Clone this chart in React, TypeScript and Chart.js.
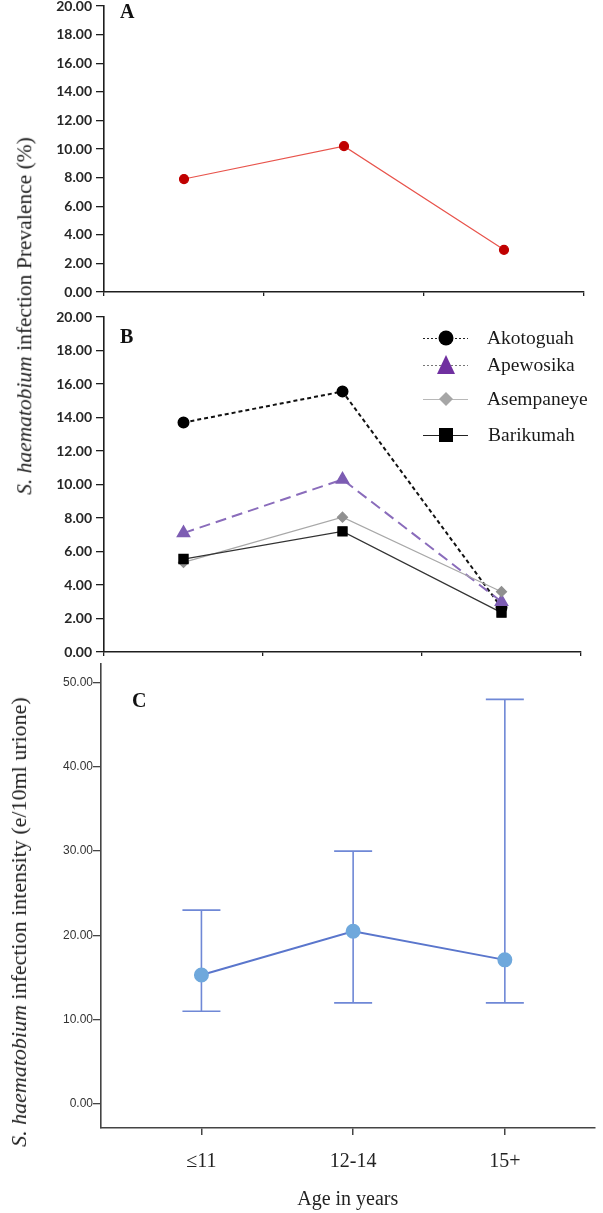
import React, { useEffect, useRef } from 'react';
import { Chart, registerables } from 'chart.js';

Chart.register(...registerables);

// ---------- data ----------
const ageGroups = ['≤11', '12-14', '15+'];
const prevalenceTicks = [0, 2, 4, 6, 8, 10, 12, 14, 16, 18, 20];
const overallPrevalence = [7.9, 10.2, 2.95];
const villages = ['Akotoguah', 'Apewosika', 'Asempaneye', 'Barikumah'];
const akotoguah = [13.7, 15.55, 2.65];
const apewosika = [7.1, 10.3, 3.0];
const asempaneye = [5.35, 8.05, 3.6];
const barikumah = [5.55, 7.2, 2.35];
const intensityTicks = [0, 10, 20, 30, 40, 50];
const intensityMean = [15.3, 20.5, 17.1];
const intensityLow = [11.0, 12.0, 12.0];
const intensityHigh = [23.0, 30.0, 48.0];

const SERIF = "'Liberation Serif', 'Times New Roman', serif";
const AXIS_DARK = '#1e1e1e';

const fixY = (w: number) => (s: any) => {
  s.width = w;
  s.paddingTop = 0;
  s.paddingBottom = 0;
};
const fixX = (h: number) => (s: any) => {
  s.height = h;
  s.paddingLeft = 0;
  s.paddingRight = 0;
};
const setTicks = (vals: number[]) => (s: any) => {
  s.ticks = vals.map((v) => ({ value: v }));
};

function prevalenceY(afterWidth: number) {
  return {
    min: 0,
    max: 20,
    afterBuildTicks: setTicks(prevalenceTicks),
    afterFit: fixY(afterWidth),
    ticks: {
      callback: (v: any) => Number(v).toFixed(2),
      font: { family: 'Lato', weight: 'bold' as const, size: 14 },
      color: '#262626',
      padding: 4,
    },
    grid: { drawOnChartArea: false, tickLength: 8, color: AXIS_DARK, lineWidth: 1.3 },
    border: { color: AXIS_DARK, width: 1.6 },
  };
}

function prevalenceX(h: number) {
  return {
    type: 'category' as const,
    offset: true,
    afterFit: fixX(h),
    ticks: { display: false },
    grid: { offset: true, drawOnChartArea: false, tickLength: 4, color: AXIS_DARK, lineWidth: 1.3 },
    border: { color: AXIS_DARK, width: 1.6 },
  };
}

// legend drawn inside panel B
const villageLegend = {
  id: 'villageLegend',
  afterDraw(chart: any) {
    const ctx = chart.ctx as CanvasRenderingContext2D;
    const rows = [38, 65, 99, 135];
    const x0 = 423;
    const x1 = 468;
    const xm = 446;
    const tx = 487;
    const lineStyles = [
      { color: '#222', dash: [2, 2] },
      { color: '#777', dash: [2, 2] },
      { color: '#b8b8b8', dash: [] as number[] },
      { color: '#222', dash: [] as number[] },
    ];
    ctx.save();
    rows.forEach((y, i) => {
      ctx.beginPath();
      ctx.setLineDash(lineStyles[i].dash);
      ctx.strokeStyle = lineStyles[i].color;
      ctx.lineWidth = 1;
      ctx.moveTo(x0, y + 0.5);
      ctx.lineTo(x1, y + 0.5);
      ctx.stroke();
      ctx.setLineDash([]);
      ctx.beginPath();
      if (i === 0) {
        ctx.fillStyle = '#000';
        ctx.arc(xm, y, 7.5, 0, Math.PI * 2);
      } else if (i === 1) {
        ctx.fillStyle = '#7030a0';
        ctx.moveTo(xm, y - 10);
        ctx.lineTo(xm + 9, y + 9);
        ctx.lineTo(xm - 9, y + 9);
        ctx.closePath();
      } else if (i === 2) {
        ctx.fillStyle = '#a6a6a6';
        ctx.moveTo(xm, y - 7);
        ctx.lineTo(xm + 7, y);
        ctx.lineTo(xm, y + 7);
        ctx.lineTo(xm - 7, y);
        ctx.closePath();
      } else {
        ctx.fillStyle = '#000';
        ctx.rect(xm - 7, y - 7, 14, 14);
      }
      ctx.fill();
      ctx.font = `19.5px ${SERIF}`;
      ctx.fillStyle = '#1a1a1a';
      ctx.textBaseline = 'middle';
      ctx.textAlign = 'left';
      ctx.fillText(chart.data.datasets[i].label, tx + (i === 3 ? 1 : 0), y + 1);
    });
    ctx.restore();
  },
};

// error bars for panel C
const errorBars = {
  id: 'errorBars',
  beforeDatasetsDraw(chart: any) {
    const ctx = chart.ctx as CanvasRenderingContext2D;
    const xs = chart.scales.x;
    const ys = chart.scales.y;
    ctx.save();
    ctx.strokeStyle = '#6f88d6';
    ctx.lineWidth = 1.6;
    intensityMean.forEach((_, i) => {
      const x = xs.getPixelForValue(i);
      const yl = ys.getPixelForValue(intensityLow[i]);
      const yh = ys.getPixelForValue(intensityHigh[i]);
      ctx.beginPath();
      ctx.moveTo(x, yl);
      ctx.lineTo(x, yh);
      ctx.moveTo(x - 19, yl);
      ctx.lineTo(x + 19, yl);
      ctx.moveTo(x - 19, yh);
      ctx.lineTo(x + 19, yh);
      ctx.stroke();
    });
    ctx.restore();
  },
};

export default function App() {
  const refA = useRef<HTMLCanvasElement>(null);
  const refB = useRef<HTMLCanvasElement>(null);
  const refC = useRef<HTMLCanvasElement>(null);

  useEffect(() => {
    const common = {
      animation: false as const,
      responsive: false,
      maintainAspectRatio: false,
      plugins: { legend: { display: false }, tooltip: { enabled: false } },
    };

    const chartA = new Chart(refA.current!, {
      type: 'line',
      data: {
        labels: ageGroups,
        datasets: [
          {
            label: 'Overall',
            data: overallPrevalence,
            borderColor: '#e8544c',
            borderWidth: 1.2,
            pointBackgroundColor: '#c00000',
            pointBorderColor: '#c00000',
            pointRadius: 4.5,
          },
        ],
      },
      options: {
        ...common,
        layout: { padding: { top: 6, right: 19, left: 0, bottom: 0 } },
        scales: { x: prevalenceX(8), y: prevalenceY(104) },
      } as any,
    });

    const chartB = new Chart(refB.current!, {
      type: 'line',
      data: {
        labels: ageGroups,
        datasets: [
          {
            label: villages[0],
            data: akotoguah,
            borderColor: '#111',
            borderWidth: 2,
            borderDash: [4, 3],
            pointStyle: 'circle',
            pointRadius: 5,
            pointBackgroundColor: '#000',
            pointBorderColor: '#000',
            order: 3,
          },
          {
            label: villages[1],
            data: apewosika,
            borderColor: '#8a6cbb',
            borderWidth: 2,
            borderDash: [11, 6],
            pointStyle: 'triangle',
            pointRadius: 6.5,
            pointBackgroundColor: '#7d5db3',
            pointBorderColor: '#7d5db3',
            order: 2,
          },
          {
            label: villages[2],
            data: asempaneye,
            borderColor: '#a8a8a8',
            borderWidth: 1.2,
            pointStyle: 'rectRot',
            pointRadius: 5,
            pointBackgroundColor: '#909090',
            pointBorderColor: '#909090',
            order: 1,
          },
          {
            label: villages[3],
            data: barikumah,
            borderColor: '#333',
            borderWidth: 1.2,
            pointStyle: 'rect',
            pointRadius: 6.5,
            pointBackgroundColor: '#000',
            pointBorderColor: '#000',
            order: 0,
          },
        ],
      },
      options: {
        ...common,
        layout: { padding: { top: 17, right: 22, left: 0, bottom: 0 } },
        scales: { x: prevalenceX(10), y: prevalenceY(104) },
      } as any,
      plugins: [villageLegend],
    });

    const chartC = new Chart(refC.current!, {
      type: 'line',
      data: {
        datasets: [
          {
            label: 'Intensity',
            data: intensityMean.map((y, i) => ({ x: i, y })),
            borderColor: '#5a76cc',
            borderWidth: 2,
            pointRadius: 6.5,
            pointBackgroundColor: '#6fa8dc',
            pointBorderColor: '#6fa8dc',
          },
        ],
      },
      options: {
        ...common,
        layout: { padding: { top: 8, right: 1, left: 0, bottom: 0 } },
        scales: {
          x: {
            type: 'linear',
            min: -0.662,
            max: 2.591,
            bounds: 'data',
            afterBuildTicks: setTicks(ageGroups.map((_, i) => i)),
            afterFit: fixX(85),
            ticks: {
              callback: (v: any) => ageGroups[Number(v)] ?? '',
              font: { family: SERIF, size: 20 },
              color: '#222',
              padding: 15,
              autoSkip: false,
              maxRotation: 0,
            },
            grid: { drawOnChartArea: false, tickLength: 7, color: '#444', lineWidth: 1.5 },
            border: { color: '#444', width: 1.6 },
            title: {
              display: true,
              text: 'Age in years',
              font: { family: SERIF, size: 20 },
              color: '#222',
              padding: { top: 0, bottom: 1 },
            },
          },
          y: {
            min: -2.84,
            max: 52.25,
            bounds: 'data',
            afterBuildTicks: setTicks(intensityTicks),
            afterFit: fixY(101),
            ticks: {
              callback: (v: any) => Number(v).toFixed(2),
              font: { family: "'Liberation Sans', Arial, sans-serif", size: 12 },
              color: '#333',
              padding: 0,
            },
            grid: { drawOnChartArea: false, tickLength: 8, color: '#444', lineWidth: 1.3 },
            border: { color: '#444', width: 1.6 },
          },
        },
      } as any,
      plugins: [errorBars],
    });

    return () => {
      chartA.destroy();
      chartB.destroy();
      chartC.destroy();
    };
  }, []);

  const abs = (left: number, top: number, w: number, h: number): React.CSSProperties => ({
    position: 'absolute',
    left,
    top,
    width: w,
    height: h,
    display: 'block',
  });

  const vTitle = (cx: number, cy: number, size: number): React.CSSProperties => ({
    position: 'absolute',
    left: cx,
    top: cy,
    transform: 'translate(-50%, -50%) rotate(-90deg)',
    whiteSpace: 'nowrap',
    fontFamily: SERIF,
    fontSize: size,
    lineHeight: `${size}px`,
    color: '#222',
  });

  const letter = (left: number, cy: number): React.CSSProperties => ({
    position: 'absolute',
    left,
    top: cy - 10,
    fontFamily: SERIF,
    fontWeight: 'bold',
    fontSize: 20,
    lineHeight: '20px',
    color: '#111',
  });

  return (
    <div style={{ position: 'absolute', left: 0, top: 0, width: 603, height: 1213, background: '#fff', overflow: 'hidden' }}>
      <canvas ref={refA} width={603} height={300} style={abs(0, 0, 603, 300)} />
      <canvas ref={refB} width={603} height={362} style={abs(0, 300, 603, 362)} />
      <canvas ref={refC} width={603} height={558} style={abs(0, 655, 603, 558)} />
      <div style={vTitle(25, 316, 21.5)}>
        <i>S. haematobium</i> infection Prevalence (%)
      </div>
      <div style={vTitle(19, 922, 22)}>
        <i>S. haematobium</i> infection intensity (e/10ml urione)
      </div>
      <div style={letter(120, 11)}>A</div>
      <div style={letter(120, 336)}>B</div>
      <div style={letter(132, 700)}>C</div>
    </div>
  );
}
